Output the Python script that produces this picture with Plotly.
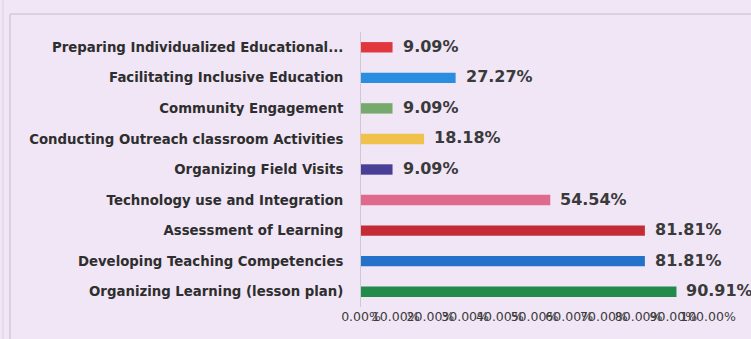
import plotly.graph_objects as go

# Skill areas (top to bottom) and share of respondents
categories = [
    "Preparing Individualized Educational...",
    "Facilitating Inclusive Education",
    "Community Engagement",
    "Conducting Outreach classroom Activities",
    "Organizing Field Visits",
    "Technology use and Integration",
    "Assessment of Learning",
    "Developing Teaching Competencies",
    "Organizing Learning (lesson plan)",
]
percentages = [9.09, 27.27, 9.09, 18.18, 9.09, 54.54, 81.81, 81.81, 90.91]
bar_colors = [
    "#e2363e", "#2b8ddf", "#76a96c", "#f0c24c", "#4a3f97",
    "#df6a8b", "#c52b35", "#2471c9", "#228a4a",
]
tick_values = [0, 10, 20, 30, 40, 50, 60, 70, 80, 90, 100]
tick_labels = [f"{v:.2f}%" for v in tick_values]

W, H = 751, 339
L, R, T, B = 361, 43, 32, 32
BG = "#f1e6f6"

fig = go.Figure(
    go.Bar(
        x=percentages,
        y=categories,
        orientation="h",
        marker=dict(color=bar_colors, line=dict(width=0)),
        hoverinfo="x+y",
    )
)

# Value labels to the right of each bar
for cat, val in zip(categories, percentages):
    fig.add_annotation(
        x=val, y=cat, xref="x", yref="y",
        text=f"{val:.2f}%", showarrow=False,
        xanchor="left", xshift=8, yshift=1,
        font=dict(family="DejaVu Sans", size=16, color="#3a3a3a", weight="bold"),
    )

# Light frame around the chart panel
pw = W - L - R
ph = H - T - B
def px_to_paper_x(px):
    return (px - L) / pw
def px_to_paper_y(py):
    return 1 - (py - T) / ph

frame = dict(color="#d2cad6", width=1.5)
fig.add_shape(type="line", xref="paper", yref="paper",
              x0=px_to_paper_x(10), x1=px_to_paper_x(W + 5),
              y0=px_to_paper_y(14), y1=px_to_paper_y(14), line=frame)
fig.add_shape(type="line", xref="paper", yref="paper",
              x0=px_to_paper_x(10), x1=px_to_paper_x(10),
              y0=px_to_paper_y(14), y1=px_to_paper_y(H + 5), line=frame)
fig.add_shape(type="line", xref="paper", yref="paper",
              x0=px_to_paper_x(3), x1=px_to_paper_x(3),
              y0=px_to_paper_y(-5), y1=px_to_paper_y(H + 5),
              line=dict(color="#e2d8e6", width=1.5))

fig.update_layout(
    width=W, height=H,
    margin=dict(l=L, r=R, t=T, b=B, autoexpand=False),
    paper_bgcolor=BG, plot_bgcolor=BG,
    bargap=0.66,
    showlegend=False,
    xaxis=dict(
        range=[0, 100], tickmode="array", tickvals=tick_values, ticktext=tick_labels,
        tickangle=0, automargin=False,
        showgrid=False, zeroline=False, showline=False, ticks="",
        tickfont=dict(family="DejaVu Sans", size=12.5, color="#3c3c3c"),
        fixedrange=True,
    ),
    yaxis=dict(
        autorange="reversed", showgrid=False, zeroline=False, automargin=False,
        showline=True, linecolor="#cfc8d2", linewidth=1, ticks="",
        ticklabelstandoff=14,
        tickfont=dict(family="DejaVu Sans", size=13.3, color="#2e2e2e", weight="bold"),
        fixedrange=True,
    ),
)

fig.write_html("out.html")
